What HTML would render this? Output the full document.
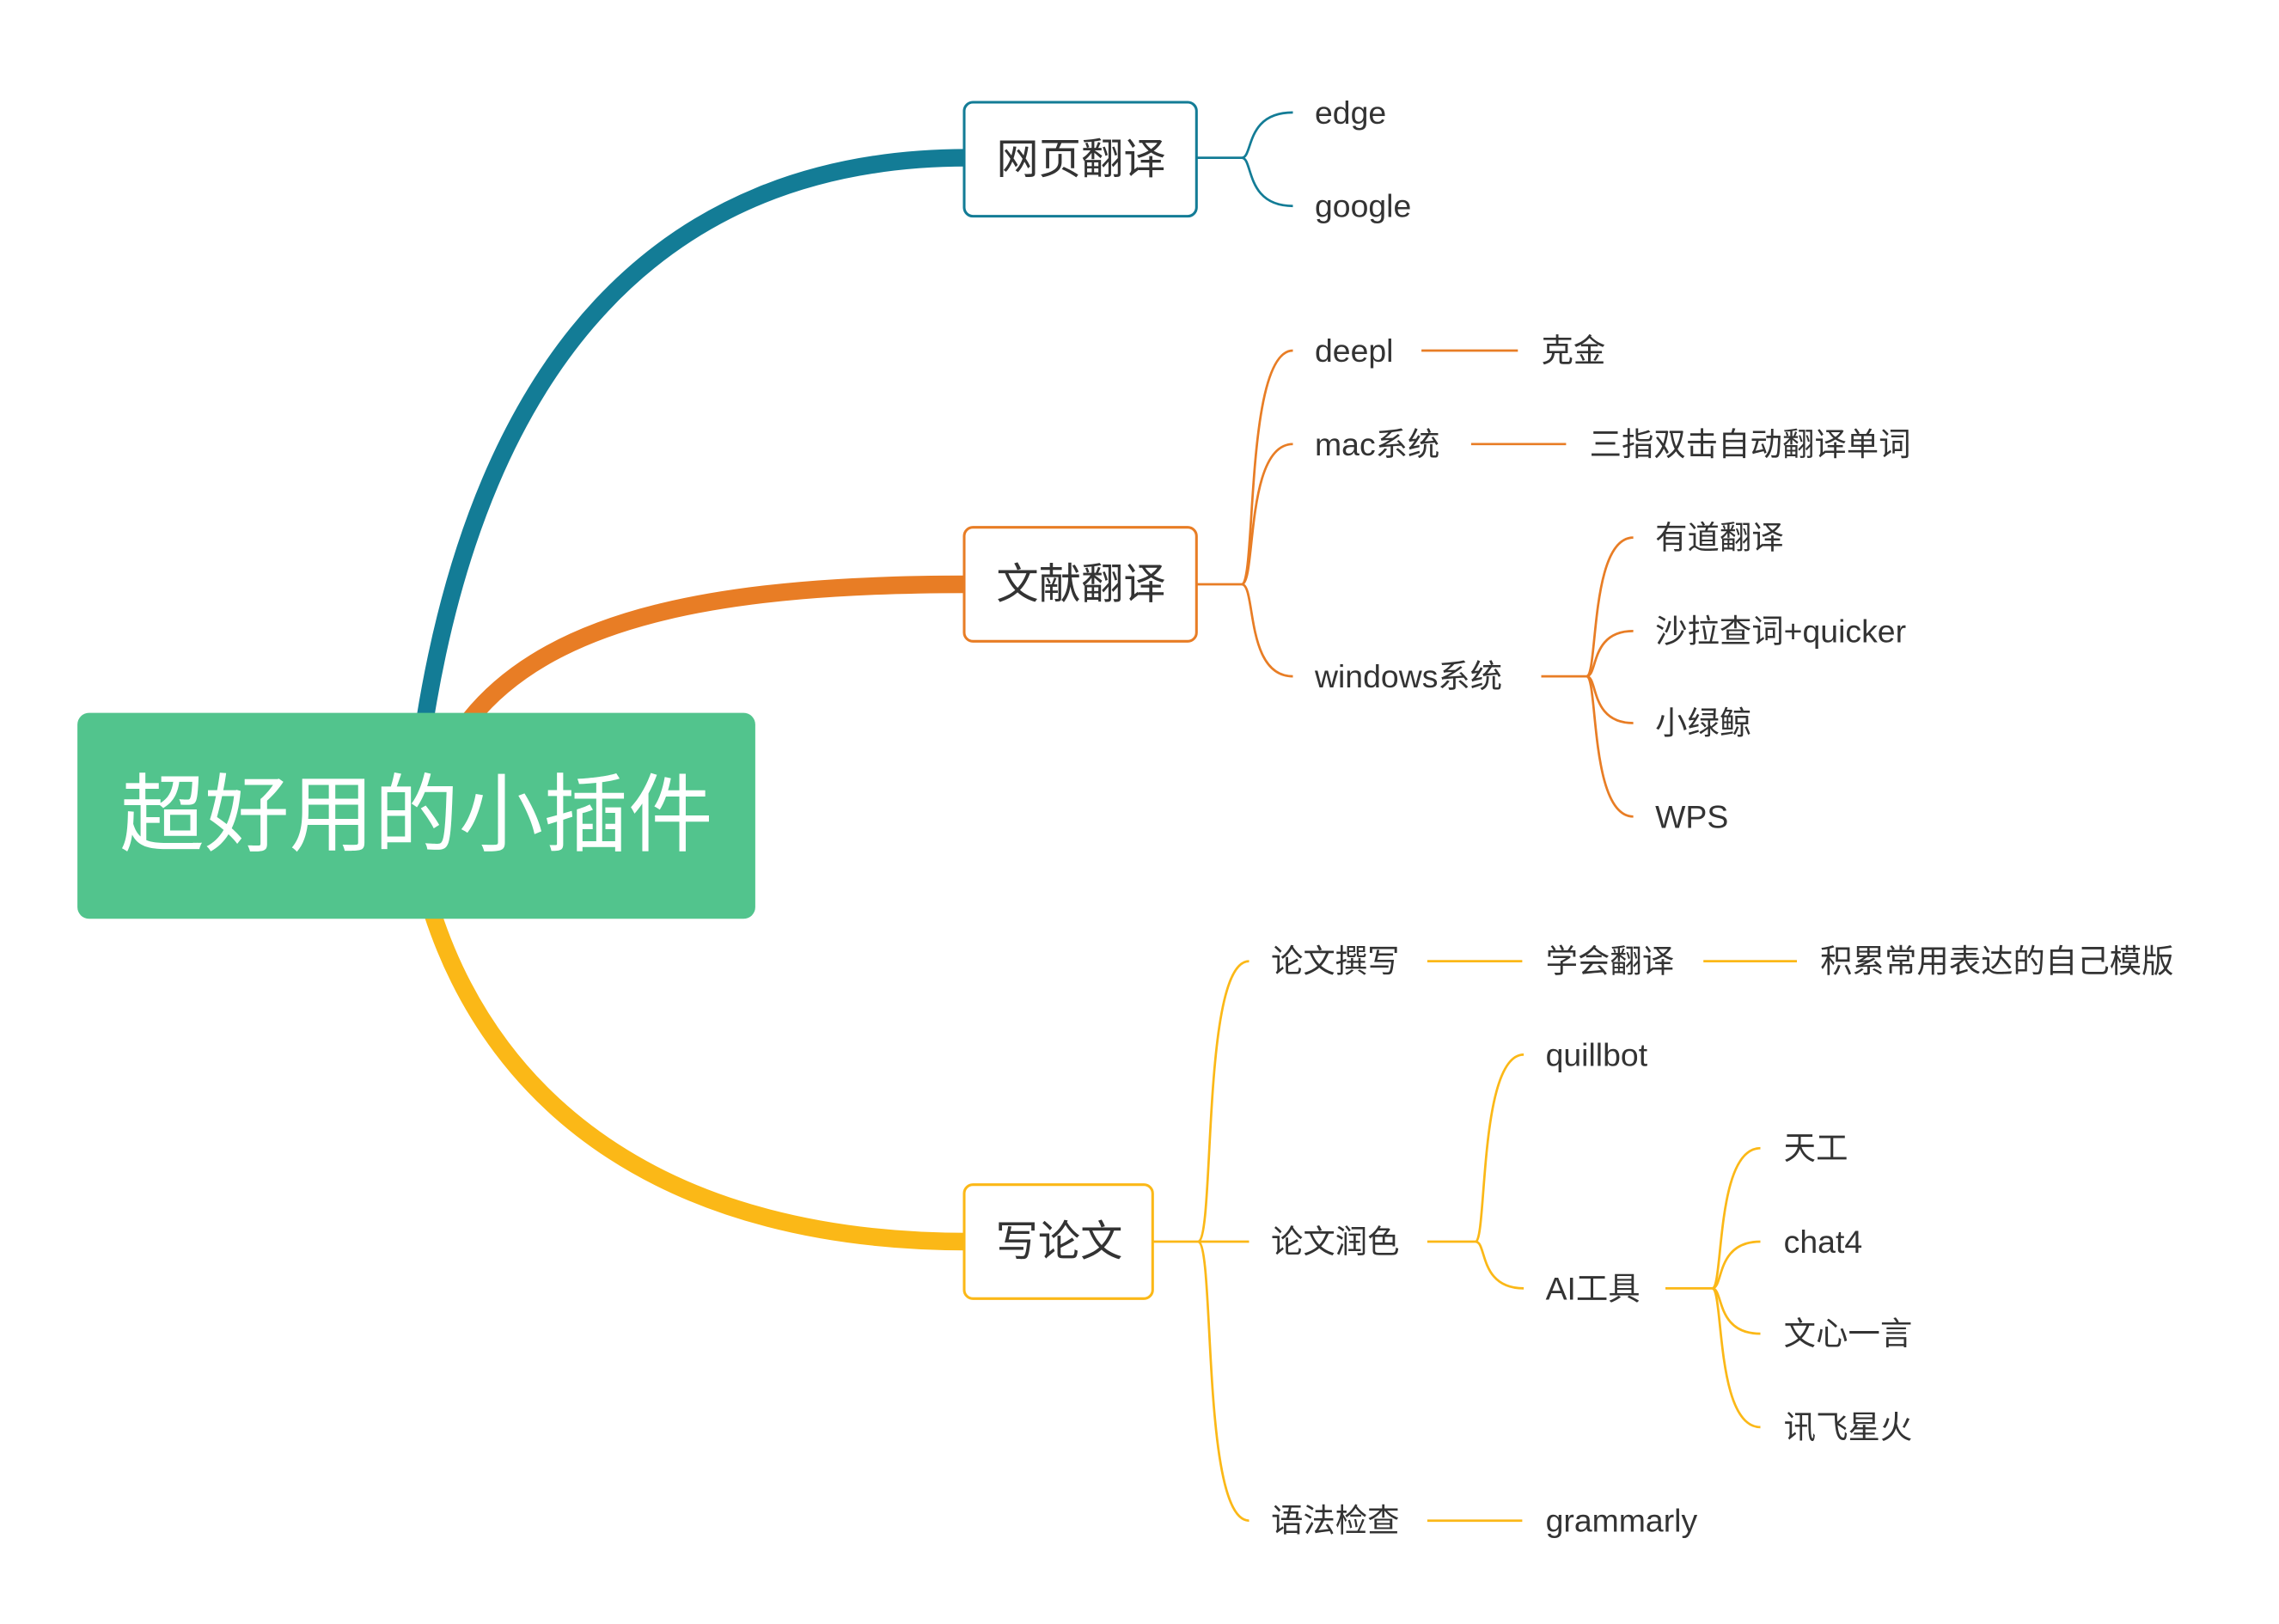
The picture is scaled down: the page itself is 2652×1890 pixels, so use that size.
<!DOCTYPE html>
<html><head><meta charset="utf-8"><style>
html,body{margin:0;padding:0;background:#fff;}
svg{display:block;}
text{font-family:"Liberation Sans","Noto Sans CJK SC",sans-serif;}
.l{font-size:22px;fill:#333;dominant-baseline:central;}
.m{font-size:29px;fill:#333;dominant-baseline:central;text-anchor:middle;}
</style></head><body>
<svg width="2652" height="1890" viewBox="0 0 1560 1111.76" xmlns="http://www.w3.org/2000/svg">
<rect width="1560" height="1112" fill="#fff"/>
<path d="M291,492 C330,250 450,108 662,108" fill="none" stroke="#137C96" stroke-width="12"/>
<path d="M322,492 C380,420 500,400 662,400" fill="none" stroke="#E87D25" stroke-width="12"/>
<path d="M296,625 C340,760 460,850 662,850" fill="none" stroke="#FBB817" stroke-width="12"/>
<rect x="53" y="488" width="464" height="141" rx="8" fill="#52C48D"/>
<text x="285" y="558" font-size="58" fill="#fff" text-anchor="middle" dominant-baseline="central">超好用的小插件</text>

<rect x="660" y="70" width="159" height="78" rx="6" fill="#fff" stroke="#137C96" stroke-width="1.8"/>
<text class="m" x="740" y="109">网页翻译</text>
<g fill="none" stroke="#137C96" stroke-width="1.6">
<path d="M819,108 H850"/>
<path d="M850,108 C858,108 852,77 885,77"/>
<path d="M850,108 C858,108 852,141 885,141"/>
</g>
<text class="l" x="900" y="77">edge</text>
<text class="l" x="900" y="141">google</text>

<rect x="660" y="361" width="159" height="78" rx="6" fill="#fff" stroke="#E87D25" stroke-width="1.8"/>
<text class="m" x="740" y="400">文献翻译</text>
<g fill="none" stroke="#E87D25" stroke-width="1.6">
<path d="M819,400 H850"/>
<path d="M850,400 C860,400 852,240 885,240"/>
<path d="M850,400 C860,400 852,304 885,304"/>
<path d="M850,400 C860,400 852,463 885,463"/>
<path d="M973,240 H1039"/>
<path d="M1007,304 H1072"/>
<path d="M1055,463 H1086"/>
<path d="M1086,463 C1094,463 1088,368 1118,368"/>
<path d="M1086,463 C1094,463 1088,432 1118,432"/>
<path d="M1086,463 C1094,463 1088,495 1118,495"/>
<path d="M1086,463 C1094,463 1088,559 1118,559"/>
</g>
<text class="l" x="900" y="240">deepl</text>
<text class="l" x="1055" y="240">克金</text>
<text class="l" x="900" y="304">mac系统</text>
<text class="l" x="1088" y="304">三指双击自动翻译单词</text>
<text class="l" x="900" y="463">windows系统</text>
<text class="l" x="1133" y="368">有道翻译</text>
<text class="l" x="1133" y="432">沙拉查词+quicker</text>
<text class="l" x="1133" y="495">小绿鲸</text>
<text class="l" x="1133" y="559">WPS</text>

<rect x="660" y="811" width="129" height="78" rx="6" fill="#fff" stroke="#FBB817" stroke-width="1.8"/>
<text class="m" x="725" y="850">写论文</text>
<g fill="none" stroke="#FBB817" stroke-width="1.6">
<path d="M789,850 H820"/>
<path d="M820,850 C832,850 822,658 855,658"/>
<path d="M820,850 H855"/>
<path d="M820,850 C832,850 822,1041 855,1041"/>
<path d="M977,658 H1042"/>
<path d="M1166,658 H1230"/>
<path d="M977,850 H1010"/>
<path d="M1010,850 C1018,850 1012,722 1043,722"/>
<path d="M1010,850 C1018,850 1012,882 1043,882"/>
<path d="M1140,882 H1172"/>
<path d="M1172,882 C1180,882 1174,786 1205,786"/>
<path d="M1172,882 C1180,882 1174,850 1205,850"/>
<path d="M1172,882 C1180,882 1174,913 1205,913"/>
<path d="M1172,882 C1180,882 1174,977 1205,977"/>
<path d="M977,1041 H1042"/>
</g>
<text class="l" x="870" y="658">论文撰写</text>
<text class="l" x="1058" y="658">学会翻译</text>
<text class="l" x="1246" y="658">积累常用表达的自己模版</text>
<text class="l" x="870" y="850">论文润色</text>
<text class="l" x="1058" y="722">quillbot</text>
<text class="l" x="1058" y="882">AI工具</text>
<text class="l" x="1221" y="786">天工</text>
<text class="l" x="1221" y="850">chat4</text>
<text class="l" x="1221" y="913">文心一言</text>
<text class="l" x="1221" y="977">讯飞星火</text>
<text class="l" x="870" y="1041">语法检查</text>
<text class="l" x="1058" y="1041">grammarly</text>
</svg>
</body></html>
